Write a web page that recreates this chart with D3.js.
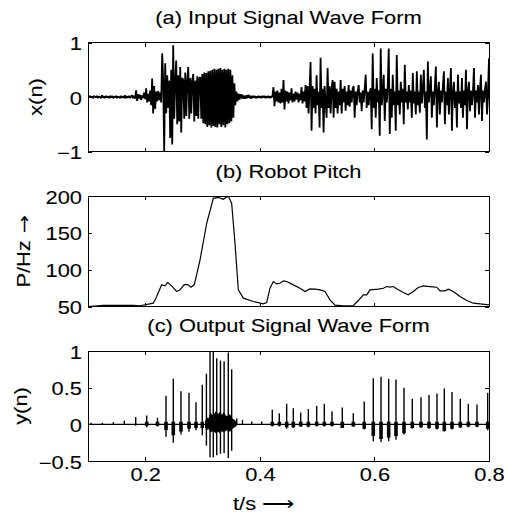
<!DOCTYPE html>
<html>
<head>
<meta charset="utf-8">
<script src="https://cdn.jsdelivr.net/npm/d3@7"></script>
<style>
  body { margin: 0; background: #fff; }
  text { font-family: "Liberation Sans", Arial, Helvetica, sans-serif; font-size: 17.5px; fill: #000;
         stroke: #000; stroke-width: 0.1; }
</style>
</head>
<body>
<svg id="chart" width="506" height="514"></svg>
<script>
// ---- data ----

// x(n): input wave, one value per picture column, first sample at 0.1 s
const inputStart = 0.1
const inputStep = 0.00175
const inputX = [
  0.01,-0.01,0.02,-0.01,0.01,-0.02,0.02,0,-0.01,0.02,
  -0.02,0.01,0,-0.02,0.03,-0.01,0.01,-0.02,0.02,-0.01,
  0.01,-0.02,0.02,-0.01,0.02,-0.02,0.01,-0.01,0.02,-0.02,
  0.01,0,-0.02,0.02,-0.01,0.01,-0.02,0.03,-0.02,0.01,
  -0.01,0.02,-0.02,0.01,0.03,-0.02,0.02,-0.03,
  0.12,-0.07,0.05,-0.03,0.04,-0.05,0.03,-0.02,0.08,-0.04,
  0.16,-0.1,0.06,-0.08,0.12,-0.15,0.34,-0.3,0.2,-0.22,
  0.1,-0.08,0.11,-0.06,0.08,
  -0.1,0.8,0.3,-1.0,0.62,-0.3,0.4,-0.2,0.3,-0.75,
  0.5,-0.87,0.95,-0.4,0.3,0.67,-0.5,0.4,-0.45,0.55,
  -0.65,0.35,0.31,-0.4,0.45,-0.35,0.3,0.55,-0.4,0.35,
  -0.3,0.3,0.42,-0.45,0.3,-0.35,0.38,-0.4,0.35,
  0.36,-0.4,0.42,-0.48,0.45,-0.5,0.44,-0.55,0.47,-0.52,
  0.48,-0.56,0.5,-0.53,0.52,-0.55,0.5,-0.56,0.52,-0.5,
  0.53,-0.55,0.5,-0.52,0.52,-0.56,0.5,-0.5,0.52,-0.48,
  0.5,-0.45,0.4,-0.38,0.25,
  -0.15,0.1,-0.08,0.06,-0.05,0.05,-0.03,0.04,-0.03,0.02,
  -0.03,0.03,-0.02,0.04,-0.02,0.02,-0.03,0.02,-0.01,0.02,
  -0.02,0.01,-0.02,0.02,-0.01,0.01,-0.02,0.02,-0.01,0.02,
  -0.02,0.01,-0.01,0.02,-0.02,0.01,-0.01,0.02,
  0.18,-0.17,0.1,-0.08,0.12,-0.1,0.08,-0.12,0.15,-0.1,
  0.31,-0.23,0.12,-0.08,0.1,-0.12,0.08,-0.06,0.16,-0.1,
  0.06,-0.08,0.1,-0.05,0.08,-0.1,0.06,-0.06,0.18,-0.12,
  0.1,-0.08,0.22,-0.2,
  0.2,-0.3,0.15,0.64,-0.62,0.2,-0.2,0.15,-0.3,0.4,
  -0.15,0.1,-0.56,0.72,-0.2,0.15,-0.65,0.2,-0.1,-0.38,
  0.53,-0.2,0.2,-0.3,0.15,0.31,-0.38,0.28,-0.2,0.15,
  -0.3,0.1,-0.15,0.31,-0.3,0.15,-0.1,0.2,-0.25,0.1,
  -0.15,0.22,-0.18,0.12,-0.1,0.15,0.2,-0.38,0.1,
  -0.15,0.1,0.22,-0.1,0.08,-0.26,0.12,-0.1,0.15,0.41,
  -0.2,0.1,-0.15,0.08,0.16,-0.59,0.8,-0.2,0.15,-0.38,
  0.35,-0.1,0.12,-0.71,0.89,-0.15,0.1,0.41,-0.44,0.15,
  -0.1,0.2,0.89,-0.68,0.15,-0.38,0.41,-0.15,0.1,-0.62,
  0.77,-0.15,0.12,-0.32,0.28,-0.1,0.15,-0.5,0.59,-0.1,
  0.1,-0.23,0.22,-0.1,0.12,-0.38,0.44,-0.12,0.1,-0.32,
  0.47,-0.15,0.1,-0.29,0.41,-0.12,0.15,0.5,-0.2,0.1,
  -0.78,0.65,-0.1,0.12,0.38,-0.38,0.1,-0.15,0.2,0.56,
  -0.56,0.1,0.28,-0.32,0.12,-0.1,0.2,0.47,-0.5,0.1,
  -0.15,0.35,-0.32,0.12,0.53,-0.62,0.1,0.28,-0.2,0.1,
  -0.56,0.41,-0.12,0.1,-0.2,0.35,-0.38,0.12,-0.15,0.5,
  -0.59,0.1,0.28,-0.26,0.12,-0.15,0.1,0.53,-0.38,0.12,
  -0.1,0.22,-0.32,0.15,0.41,-0.44,0.12,-0.1,0.15,0.28,
  -0.32,0.1,0.71,-0.44
]

// robot pitch (Hz)
const pitchT = [0.1005,0.1267,0.1791,0.1908,0.2140,0.2199,0.2286,0.2344,0.2391,0.2461,
  0.2548,0.2606,0.2681,0.2740,0.2798,0.2856,0.2955,0.3072,0.3187,0.3275,
  0.3362,0.3449,0.3508,0.3566,0.3624,0.3711,0.3886,0.4060,0.4119,0.4177,
  0.4235,0.4294,0.4352,0.4410,0.4469,0.4585,0.4701,0.4788,0.4875,0.4963,
  0.5050,0.5137,0.5224,0.5312,0.5457,0.5631,0.5719,0.5806,0.5865,0.5923,
  0.6068,0.6155,0.6214,0.6272,0.6329,0.6417,0.6504,0.6591,0.6679,0.6766,
  0.6853,0.6970,0.7087,0.7144,0.7232,0.7289,0.7377,0.7494,0.7611,0.7726,
  0.7843,0.8000]
const pitchHz = [50,51.4,51.4,51,54.5,63.6,79.4,78,82.5,78,
  70.3,72.6,79.8,79.8,76.2,79.8,113,163,196.8,198,
  195.5,200,190,135.8,72.6,61.3,56.8,53.6,55.4,74.8,
  83.9,80.7,81.6,84.8,83.9,79.4,74.8,70.3,73.9,73.5,
  72.6,70.3,59,51.8,51,51,58.1,65.8,65.8,72.6,
  73.5,74.8,77.1,76.2,77.1,72.6,69,65.8,70.3,75.8,
  78,77.1,76.2,71.2,71.2,73.5,70.3,63.6,58.1,54.5,
  53.6,52.3]

// y(n): output pulses (time, peak, trough, depth of the dark lobe)
const outT = [0.1052,0.1250,0.1442,0.1634,0.1833,0.2025,0.2213,0.2362,0.2489,0.2623,
  0.2763,0.2885,0.2995,0.3067,0.3130,0.3187,0.3247,0.3312,0.3376,0.3449,
  0.3508,0.3597,0.3697,0.3858,0.4032,0.4217,0.4339,0.4468,0.4584,0.4713,
  0.4846,0.4992,0.5125,0.5259,0.5439,0.5631,0.5822,0.5980,0.6115,0.6249,
  0.6376,0.6516,0.6661,0.6813,0.6953,0.7092,0.7220,0.7354,0.7499,0.7639,
  0.7790,0.7977]
const outUp = [0.02,0.02,0.03,0.05,0.1,0.12,0.09,0.39,0.62,0.45,
  0.43,0.3,0.54,0.69,1.0,1.0,0.9,0.87,0.86,0.98,
  0.75,0.08,0.06,0.04,0.04,0.2,0.15,0.28,0.22,0.16,
  0.21,0.25,0.28,0.18,0.23,0.15,0.31,0.63,0.65,0.62,
  0.61,0.5,0.35,0.37,0.4,0.42,0.49,0.44,0.35,0.28,
  0.27,0.43]
const outDown = [0,0,0,0,-0.02,-0.04,-0.03,-0.17,-0.25,-0.14,
  -0.1,-0.08,-0.15,-0.29,-0.45,-0.45,-0.42,-0.4,-0.39,-0.46,
  -0.36,-0.01,-0.01,0,0,-0.03,-0.03,-0.06,-0.05,-0.03,
  -0.04,-0.03,-0.03,-0.03,-0.05,-0.03,-0.07,-0.23,-0.24,-0.23,
  -0.21,-0.14,-0.06,-0.05,-0.06,-0.07,-0.1,-0.07,-0.05,-0.04,
  -0.04,-0.08]
const outLobe = [0,0,0,0,0,-0.02,-0.02,-0.08,-0.15,-0.1,
  -0.06,-0.05,-0.05,0,0,0,0,0,0,0,
  0,0,0,0,0,-0.02,-0.02,-0.04,-0.04,-0.03,
  -0.03,-0.02,-0.02,-0.02,-0.05,-0.03,-0.06,-0.16,-0.2,-0.18,
  -0.16,-0.12,-0.05,-0.04,-0.05,-0.06,-0.09,-0.06,-0.04,-0.03,
  -0.03,-0.06]

// dense core of the output between 0.30 and 0.36 s (ragged edges)
const coreT = [0.3042,0.3075,0.3100,0.3140,0.3187,0.3230,0.3270,0.3304,0.3340,0.3362,0.3420,0.3479,0.3520,0.3566,0.3606]
const coreHi = [0.04,0.1,0.08,0.15,0.12,0.18,0.14,0.17,0.13,0.16,0.11,0.14,0.08,0.06,0.01]
const coreLo = [-0.04,-0.08,-0.06,-0.11,-0.09,-0.12,-0.1,-0.12,-0.09,-0.11,-0.08,-0.1,-0.06,-0.04,-0.01]

// ticks and labels
const timeTicks = [0.2, 0.4, 0.6, 0.8]
const ticksA = [-1, 0, 1]
const ticksB = [50, 100, 150, 200]
const ticksC = [-0.5, 0, 0.5, 1]

// ---- drawing ----
const SX = 1.25   // glyphs in the figure are drawn wide
const svg = d3.select("#chart")

const x = d3.scaleLinear().domain([0.1, 0.8]).range([88, 489])

const panels = [
  { id: "a", title: "(a) Input Signal Wave Form", titleY: 24, label: "x(n)", labelX: 41.5,
    domain: [-1, 1], range: [151.5, 42.5], ticks: ticksA },
  { id: "b", title: "(b) Robot Pitch", titleY: 178, label: "P/Hz", arrow: true, labelX: 29.5,
    domain: [50, 200], range: [306.5, 196], ticks: ticksB },
  { id: "c", title: "(c) Output Signal Wave Form", titleY: 331.5, label: "y(n)", labelX: 27,
    domain: [-0.5, 1], range: [461, 351], ticks: ticksC }
]

const fmt = d3.format("~g")

panels.forEach(p => {
  const y = d3.scaleLinear().domain(p.domain).range(p.range)
  p.y = y
  const [x0, x1] = x.range()
  const [yb, yt] = y.range()

  svg.append("clipPath").attr("id", "clip-" + p.id)
    .append("rect").attr("x", x0).attr("y", yt).attr("width", x1 - x0).attr("height", yb - yt)

  p.g = svg.append("g").attr("clip-path", "url(#clip-" + p.id + ")")

  // inward ticks on all four sides
  const bottom = svg.append("g").attr("transform", "translate(0," + yb + ")")
    .call(d3.axisBottom(x).tickValues(timeTicks).tickSize(-4).tickSizeOuter(0).tickPadding(8)
      .tickFormat(p.id === "c" ? d3.format(".1f") : ""))
  svg.append("g").attr("transform", "translate(0," + yt + ")")
    .call(d3.axisTop(x).tickValues(timeTicks).tickSize(-4).tickSizeOuter(0).tickFormat(""))
  const leftAx = svg.append("g").attr("transform", "translate(" + x0 + ",0)")
    .call(d3.axisLeft(y).tickValues(p.ticks).tickSize(-4).tickSizeOuter(0).tickPadding(4.8).tickFormat(fmt))
  svg.append("g").attr("transform", "translate(" + x1 + ",0)")
    .call(d3.axisRight(y).tickValues(p.ticks).tickSize(-4).tickSizeOuter(0).tickFormat(""))

  svg.selectAll(".domain").remove()
  svg.selectAll(".tick line").attr("shape-rendering", "crispEdges")
  bottom.selectAll("text").attr("transform", "scale(" + SX + ",1)")
  leftAx.selectAll("text").attr("dy", "0.4em").attr("transform", "scale(" + SX + ",1)")

  // frame
  svg.append("rect").attr("x", x0).attr("y", yt).attr("width", x1 - x0).attr("height", yb - yt)
    .attr("fill", "none").attr("stroke", "#000").attr("stroke-width", 1)
    .attr("shape-rendering", "crispEdges")

  // title and y label
  svg.append("text").attr("text-anchor", "middle")
    .attr("transform", "translate(" + (x0 + x1) / 2 + "," + p.titleY + ") scale(" + SX + ",1)")
    .text(p.title)
  const lab = svg.append("text").attr("text-anchor", "middle")
    .attr("transform", "translate(" + p.labelX + "," + (yb + yt) / 2 + ") rotate(-90) scale(" + SX + ",1)")
    .text(p.label)
  if (p.arrow) {
    lab.append("tspan").attr("font-family", "DejaVu Sans").attr("stroke-width", 0)
      .text(" \u2192")
  }
})

// D3 axis sets its own font attrs on the axis group; put ours back
svg.selectAll("g").attr("font-family", null).attr("font-size", null)

// (a) input wave
const ya = panels[0].y
panels[0].g.append("path")
  .datum(inputX)
  .attr("fill", "none").attr("stroke", "#000").attr("stroke-width", 1.8)
  .attr("stroke-linejoin", "bevel")
  .attr("d", d3.line().x((d, i) => x(inputStart + i * inputStep)).y(d => ya(d)))

// (b) pitch
const yb = panels[1].y
panels[1].g.append("path")
  .datum(pitchT.map((t, i) => [t, pitchHz[i]]))
  .attr("fill", "none").attr("stroke", "#000").attr("stroke-width", 1.2)
  .attr("d", d3.line().x(d => x(d[0])).y(d => yb(d[1])))

// (c) output wave
const yc = panels[2].y
const gc = panels[2].g
gc.append("line")
  .attr("x1", x(0.1)).attr("x2", x(0.8)).attr("y1", yc(0)).attr("y2", yc(0))
  .attr("stroke", "#000").attr("stroke-width", 1.4)

gc.append("path")
  .datum(coreT.map((t, i) => [t, coreHi[i], coreLo[i]]))
  .attr("fill", "#000")
  .attr("d", d3.area().x(d => x(d[0])).y0(d => yc(d[2])).y1(d => yc(d[1])))

const pulses = outT.map((t, i) => ({ t: t, up: outUp[i], down: outDown[i], lobe: outLobe[i] }))

gc.selectAll("rect.lobe")
  .data(pulses.filter(d => d.lobe < 0))
  .enter().append("rect")
    .attr("class", "lobe")
    .attr("x", d => x(d.t) - 1.8)
    .attr("width", 3.6)
    .attr("y", d => yc(0.035))
    .attr("height", d => yc(d.lobe) - yc(0.035))
    .attr("fill", "#000")

gc.selectAll("line.spike")
  .data(pulses)
  .enter().append("line")
    .attr("class", "spike")
    .attr("x1", d => x(d.t)).attr("x2", d => x(d.t))
    .attr("y1", d => yc(d.down)).attr("y2", d => yc(d.up))
    .attr("stroke", "#000").attr("stroke-width", 1.4)

// x label
svg.append("text").attr("text-anchor", "start")
  .attr("transform", "translate(233,510) scale(" + SX + ",1)")
  .text("t/s ")
  .append("tspan").attr("stroke-width", 0).text("\u27F6")
</script>
</body>
</html>
